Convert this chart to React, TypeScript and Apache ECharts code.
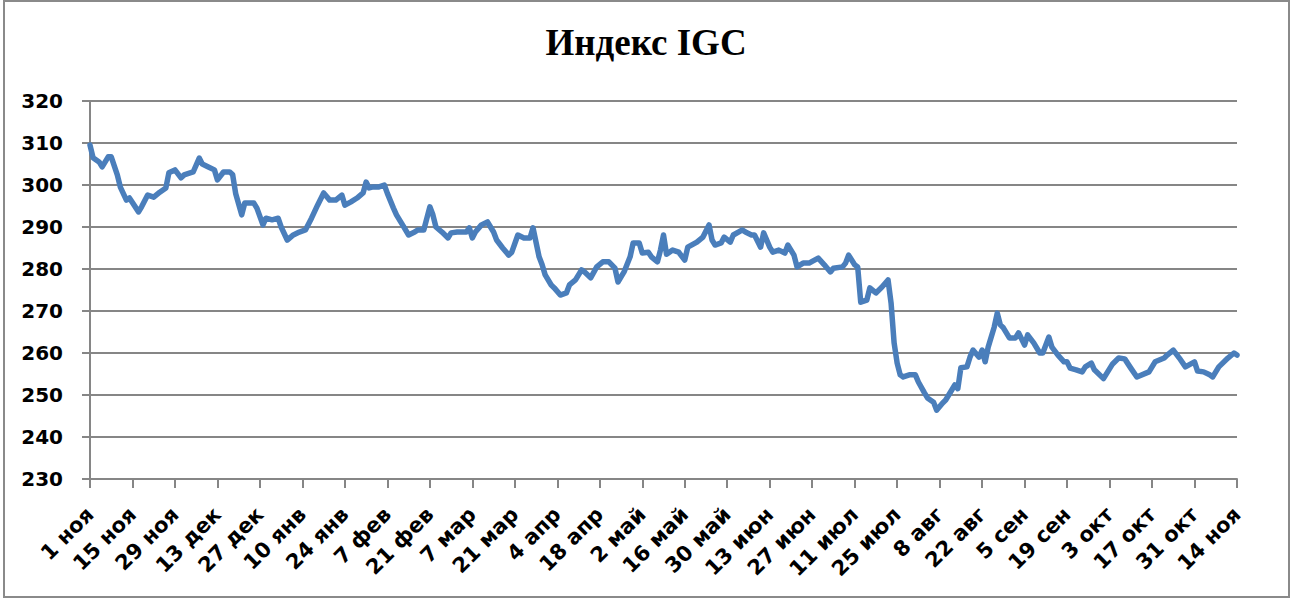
import React, { useEffect, useRef } from "react";
import * as echarts from "echarts";

const title = "Индекс IGC";

const tickLabels = [
  "1 ноя", "15 ноя", "29 ноя", "13 дек", "27 дек", "10 янв", "24 янв", "7 фев",
  "21 фев", "7 мар", "21 мар", "4 апр", "18 апр", "2 май", "16 май", "30 май",
  "13 июн", "27 июн", "11 июл", "25 июл", "8 авг", "22 авг", "5 сен", "19 сен",
  "3 окт", "17 окт", "31 окт", "14 ноя",
];

// day offset from 1 ноя
const days = [
  0, 1, 3, 4, 6, 7, 9, 10, 12, 13, 16, 17, 19, 21, 23, 25, 26, 28, 30, 31,
  34, 36, 37, 39, 41, 42, 44, 46, 47, 48, 50, 51, 54, 55, 57, 58, 60, 62, 63, 65,
  67, 69, 71, 73, 75, 77, 79, 81, 83, 84, 86, 88, 90, 91, 92, 93, 95, 97, 98, 100,
  101, 103, 105, 107, 108, 110, 112, 113, 114, 116, 118, 119, 121, 124, 125, 126, 127, 129, 131, 133,
  134, 136, 138, 139, 141, 143, 145, 146, 148, 149, 150, 152, 153, 155, 157, 158, 160, 162, 163, 165,
  167, 169, 171, 173, 174, 176, 178, 179, 181, 182, 184, 185, 187, 188, 189, 190, 192, 194, 196, 197,
  200, 202, 204, 205, 206, 208, 209, 211, 212, 215, 216, 218, 219, 221, 222, 224, 225, 227, 229, 230,
  232, 233, 235, 237, 238, 240, 242, 244, 245, 248, 249, 250, 252, 253, 254, 256, 257, 259, 261, 263,
  264, 265, 266, 267, 268, 270, 272, 273, 275, 276, 278, 279, 281, 282, 284, 285, 286, 287, 289, 290,
  291, 293, 294, 295, 296, 298, 299, 300, 301, 303, 305, 306, 308, 309, 311, 313, 314, 316, 317, 319,
  321, 322, 323, 325, 327, 328, 330, 331, 334, 337, 339, 341, 343, 345, 348, 349, 351, 354, 355, 357,
  359, 361, 364, 365, 367, 369, 370, 372, 375, 377, 378,
];

const values = [
  309.5, 306.5, 305.5, 304.3, 306.7, 306.7, 302.4, 299.5, 296.4, 296.9, 293.6, 294.8, 297.6, 297.1, 298.3, 299.3, 302.9, 303.6, 301.7, 302.4,
  303.1, 306.4, 305.0, 304.3, 303.6, 301.2, 303.1, 303.1, 302.5, 298.0, 292.9, 295.7, 295.7, 294.5, 290.5, 292.1, 291.7, 292.1, 290.0, 286.9,
  288.1, 288.8, 289.3, 292.1, 295.2, 298.1, 296.4, 296.4, 297.6, 295.2, 296.0, 296.9, 298.1, 300.7, 299.3, 299.5, 299.5, 300.0, 298.0, 294.5,
  292.9, 290.5, 288.1, 288.8, 289.3, 289.3, 294.8, 292.9, 290.0, 288.8, 287.4, 288.6, 288.8, 288.8, 289.8, 287.4, 288.8, 290.5, 291.2, 288.8,
  286.9, 285.0, 283.3, 284.0, 288.1, 287.4, 287.4, 289.8, 282.9, 281.0, 278.6, 276.2, 275.5, 273.8, 274.3, 276.2, 277.4, 279.8, 279.3, 277.9,
  280.5, 281.7, 281.7, 280.2, 276.9, 279.3, 282.9, 286.2, 286.2, 283.8, 284.0, 282.9, 281.7, 284.5, 288.1, 283.5, 284.5, 284.0, 282.1, 285.2,
  286.4, 287.6, 290.5, 286.9, 285.7, 286.2, 287.6, 286.4, 288.1, 289.3, 288.8, 288.1, 288.1, 285.2, 288.6, 285.2, 284.0, 284.5, 283.8, 285.7,
  283.3, 280.5, 281.4, 281.4, 281.8, 282.6, 281.0, 279.3, 280.2, 280.5, 281.4, 283.3, 281.0, 280.5, 272.1, 272.6, 275.5, 274.3, 275.7, 277.4,
  271.9, 262.4, 257.6, 254.8, 254.3, 254.8, 254.8, 253.1, 250.5, 249.3, 248.3, 246.4, 248.1, 248.8, 251.2, 252.4, 251.5, 256.5, 256.7, 259.0,
  260.7, 259.0, 260.7, 257.9, 261.4, 266.2, 269.5, 266.7, 266.0, 263.6, 263.6, 264.8, 261.9, 264.3, 262.4, 260.0, 260.0, 263.8, 261.4, 259.5,
  257.9, 257.9, 256.4, 256.0, 255.5, 256.7, 257.6, 256.0, 253.9, 257.4, 258.8, 258.6, 256.4, 254.3, 255.2, 255.5, 257.9, 258.8, 259.5, 260.7,
  258.8, 256.7, 257.9, 255.7, 255.5, 254.8, 254.3, 256.7, 258.8, 260.0, 259.5,
];

const yMin = 230;
const yMax = 320;
const yStep = 10;
const xStep = 14;

export default function App() {
  const ref = useRef<HTMLDivElement>(null);

  useEffect(() => {
    document.body.style.margin = "0";
    if (!ref.current) return;
    const chart = echarts.init(ref.current, undefined, { renderer: "svg" });
    const gray = "#868686";
    const labelFont = "'DejaVu Sans', Verdana, sans-serif";
    chart.setOption({
      animation: false,
      backgroundColor: "#ffffff",
      title: {
        text: title,
        left: "center",
        top: 19,
        textStyle: {
          fontFamily: "'Liberation Serif', 'Times New Roman', serif",
          fontWeight: "bold",
          fontSize: 37,
          color: "#000000",
        },
      },
      graphic: [
        {
          type: "rect",
          shape: { x: 4, y: 1, width: 1285, height: 596 },
          style: { fill: "none", stroke: "#8a8a8a", lineWidth: 2 },
          silent: true,
        },
      ],
      grid: { left: 90, top: 101, width: 1147, height: 378 },
      xAxis: {
        type: "value",
        min: 0,
        max: (tickLabels.length - 1) * xStep,
        interval: xStep,
        splitLine: { show: false },
        axisLine: { show: true, onZero: false, lineStyle: { color: gray, width: 2 } },
        axisTick: { show: true, length: 9, lineStyle: { color: gray, width: 2 } },
        axisLabel: {
          rotate: 45,
          margin: 32,
          fontFamily: labelFont,
          fontWeight: "bold",
          fontSize: 21,
          color: "#000000",
          showMinLabel: true,
          showMaxLabel: true,
          formatter: (v: number) => tickLabels[Math.round(v / xStep)] ?? "",
        },
      },
      yAxis: {
        type: "value",
        min: yMin,
        max: yMax,
        interval: yStep,
        axisLine: { show: true, lineStyle: { color: gray, width: 2 } },
        axisTick: { show: true, length: 8, lineStyle: { color: gray, width: 2 } },
        splitLine: { show: true, lineStyle: { color: gray, width: 2 } },
        axisLabel: {
          margin: 27,
          fontFamily: labelFont,
          fontWeight: "bold",
          fontSize: 20,
          color: "#000000",
        },
      },
      series: [
        {
          type: "line",
          data: days.map((d, i) => [d, values[i]]),
          showSymbol: false,
          smooth: false,
          lineStyle: { color: "#4a7ebb", width: 5.5, join: "round", cap: "round" },
          itemStyle: { color: "#4a7ebb" },
        },
      ],
    });
    return () => chart.dispose();
  }, []);

  return <div ref={ref} style={{ width: 1292, height: 603 }} />;
}
